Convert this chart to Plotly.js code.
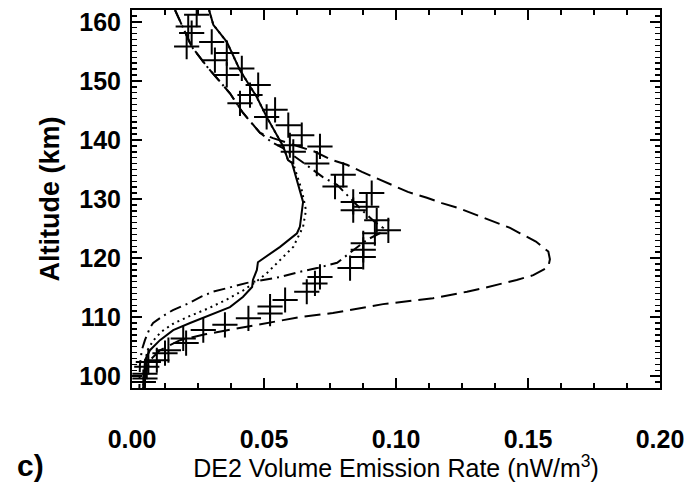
<!DOCTYPE html>
<html><head><meta charset="utf-8">
<script src="https://cdn.plot.ly/plotly-3.0.1.min.js"></script>
<style>html,body{margin:0;padding:0;background:#fff}#chart{width:688px;height:482px}</style>
</head><body><div id="chart"></div>
<script>
// Solid model curve
const solidRate = [0.0292,0.0308,0.0359,0.0409,0.0472,0.0510,0.0573,0.0591,0.0606,0.0636,0.0648,0.0636,0.0625,0.0561,0.0477,0.0473,0.0458,0.0455,0.0420,0.0371,0.0308,0.0220,0.0156,0.0106,0.0068,0.0049,0.0045];
const solidAlt  = [162.0,159.5,156.6,151.8,147.3,143.9,138.9,136.6,136.1,131.5,129.5,125.3,124.2,121.9,119.3,118.0,116.3,115.1,113.4,111.7,110.6,109.0,107.8,106.1,104.4,102.7,98.2];
// Dotted model curve
const dotRate = [0.0292,0.0308,0.0359,0.0409,0.0472,0.0510,0.0573,0.0591,0.0610,0.0643,0.0659,0.0648,0.0611,0.0567,0.0542,0.0510,0.0470,0.0420,0.0360,0.0290,0.0220,0.0160,0.0110,0.0080,0.0060,0.0050,0.0045,0.0042];
const dotAlt  = [162.0,159.5,156.6,151.8,147.3,143.9,138.9,136.6,136.1,131.5,128.1,125.3,121.9,120.0,118.8,117.4,116.0,114.5,113.0,111.5,110.2,109.0,107.5,106.0,104.5,102.5,100.0,98.0];
// Long-dashed model curve
const dashRate = [0.0163,0.0226,0.0288,0.0371,0.0420,0.0485,0.0534,0.0693,0.0758,0.0814,0.0871,0.0932,0.0989,0.1045,0.1117,0.1174,0.1235,0.1292,0.1356,0.1432,0.1470,0.1530,0.1577,0.1583,0.1577,0.1520,0.1457,0.1397,0.1330,0.1269,0.1205,0.1140,0.0951,0.0890,0.0826,0.0761,0.0636,0.0428,0.0383,0.0277,0.0182,0.0106,0.0068,0.0049,0.0042];
const dashAlt  = [162.0,155.8,152.2,147.9,144.6,141.2,140.3,138.0,136.6,135.8,134.6,133.4,132.4,131.2,130.2,129.3,128.5,127.5,126.4,125.1,124.2,122.8,121.1,119.8,118.5,117.1,116.3,115.6,114.9,114.3,113.7,113.2,112.2,111.7,111.2,110.7,110.0,108.3,108.0,107.1,106.1,104.4,102.7,100.2,98.0];
// Dash-dot model curve
const dashDotRate = [0.0163,0.0226,0.0288,0.0371,0.0420,0.0485,0.0530,0.0572,0.0644,0.0686,0.0723,0.0777,0.0814,0.0871,0.0920,0.0951,0.0939,0.0890,0.0826,0.0777,0.0701,0.0629,0.0561,0.0492,0.0436,0.0360,0.0307,0.0264,0.0213,0.0155,0.0114,0.0080,0.0068,0.0049,0.0037,0.0030,0.0028];
const dashDotAlt  = [162.0,155.8,152.2,147.9,144.6,141.2,139.6,138.6,136.3,134.9,133.7,132.4,130.7,128.1,126.1,125.1,124.2,123.1,120.9,119.2,118.3,117.6,116.8,116.3,115.8,114.9,114.3,113.5,112.3,111.2,110.1,109.0,108.2,106.1,104.4,101.9,98.0];
// Observed DE2 data points
const obsRate = [0.0245,0.0213,0.0226,0.0207,0.0302,0.0359,0.0314,0.0416,0.0359,0.0478,0.0447,0.0409,0.0542,0.0510,0.0592,0.0643,0.0712,0.0611,0.0598,0.0700,0.0800,0.0769,0.0908,0.0838,0.0838,0.0889,0.0927,0.0971,0.0920,0.0876,0.0876,0.0876,0.0826,0.0712,0.0693,0.0662,0.0580,0.0523,0.0523,0.0441,0.0352,0.0270,0.0194,0.0205,0.0138,0.0125,0.0094,0.0062,0.0056,0.0049,0.0049,0.0043];
const obsAlt  = [161.2,159.2,158.1,155.8,156.6,154.7,153.5,152.1,151.0,149.3,147.6,146.2,145.1,143.9,142.5,140.8,138.9,138.0,139.1,136.0,134.1,132.1,131.0,129.5,128.1,128.7,126.4,124.7,124.2,122.5,121.4,120.2,118.3,116.8,115.7,114.3,112.9,111.8,110.6,109.8,108.7,107.8,106.4,105.6,104.4,103.9,102.7,102.4,101.6,100.4,99.6,99.0];

const xTickVals = [0, 0.05, 0.10, 0.15, 0.20];
const xTickText = ['0.00', '0.05', '0.10', '0.15', '0.20'];
const yTickVals = [100, 110, 120, 130, 140, 150, 160];

const FONT = 'Liberation Sans, Arial, Helvetica, sans-serif';
const lineStyle = (dash) => ({color: '#000', width: 2, dash: dash});
const traces = [
  {x: solidRate, y: solidAlt, mode: 'lines', line: lineStyle('solid')},
  {x: dotRate, y: dotAlt, mode: 'lines', line: lineStyle('2px,4px')},
  {x: dashRate, y: dashAlt, mode: 'lines', line: lineStyle('16px,7px')},
  {x: dashDotRate, y: dashDotAlt, mode: 'lines', line: lineStyle('12px,5px,2px,5px')},
  {x: obsRate, y: obsAlt, mode: 'markers', marker: {symbol: 'cross-thin', size: 18, line: {color: '#000', width: 2}}}
];
const tickFont = {family: FONT, size: 25, color: '#000', weight: 'bold'};
const layout = {
  width: 688, height: 482,
  margin: {l: 132, r: 28, t: 10, b: 94},
  paper_bgcolor: '#fff', plot_bgcolor: '#fff',
  showlegend: false,
  xaxis: {
    range: [0, 0.2], tickvals: xTickVals, ticktext: xTickText,
    ticks: 'inside', ticklen: 10, tickwidth: 1.5, tickcolor: '#000',
    minor: {dtick: 0.0125, ticks: 'inside', ticklen: 5, tickwidth: 1.5, tickcolor: '#000'},
    showline: true, linewidth: 2, linecolor: '#000', mirror: 'ticks',
    showgrid: false, zeroline: false,
    ticklabelstandoff: 28,
    tickfont: tickFont,
    title: {text: 'DE2 Volume Emission Rate (nW/m<sup>3</sup>)', font: {family: FONT, size: 25, color: '#000'}, standoff: 4}
  },
  yaxis: {
    range: [98, 162], tickvals: yTickVals,
    ticks: 'inside', ticklen: 10, tickwidth: 1.5, tickcolor: '#000',
    minor: {dtick: 1, ticks: 'inside', ticklen: 5, tickwidth: 1.5, tickcolor: '#000'},
    showline: true, linewidth: 2, linecolor: '#000', mirror: 'ticks',
    showgrid: false, zeroline: false,
    ticklabelstandoff: 4,
    tickfont: tickFont,
    title: {text: 'Altitude (km)', font: {family: FONT, size: 27, color: '#000', weight: 'bold'}, standoff: 12}
  },
  annotations: [
    {text: 'c)', xref: 'paper', yref: 'paper', x: -0.193, y: -0.206, xanchor: 'center', yanchor: 'middle', showarrow: false, font: {family: FONT, size: 30, color: '#000', weight: 'bold'}}
  ]
};
Plotly.newPlot('chart', traces, layout, {staticPlot: true, displayModeBar: false});
</script>
</body></html>
